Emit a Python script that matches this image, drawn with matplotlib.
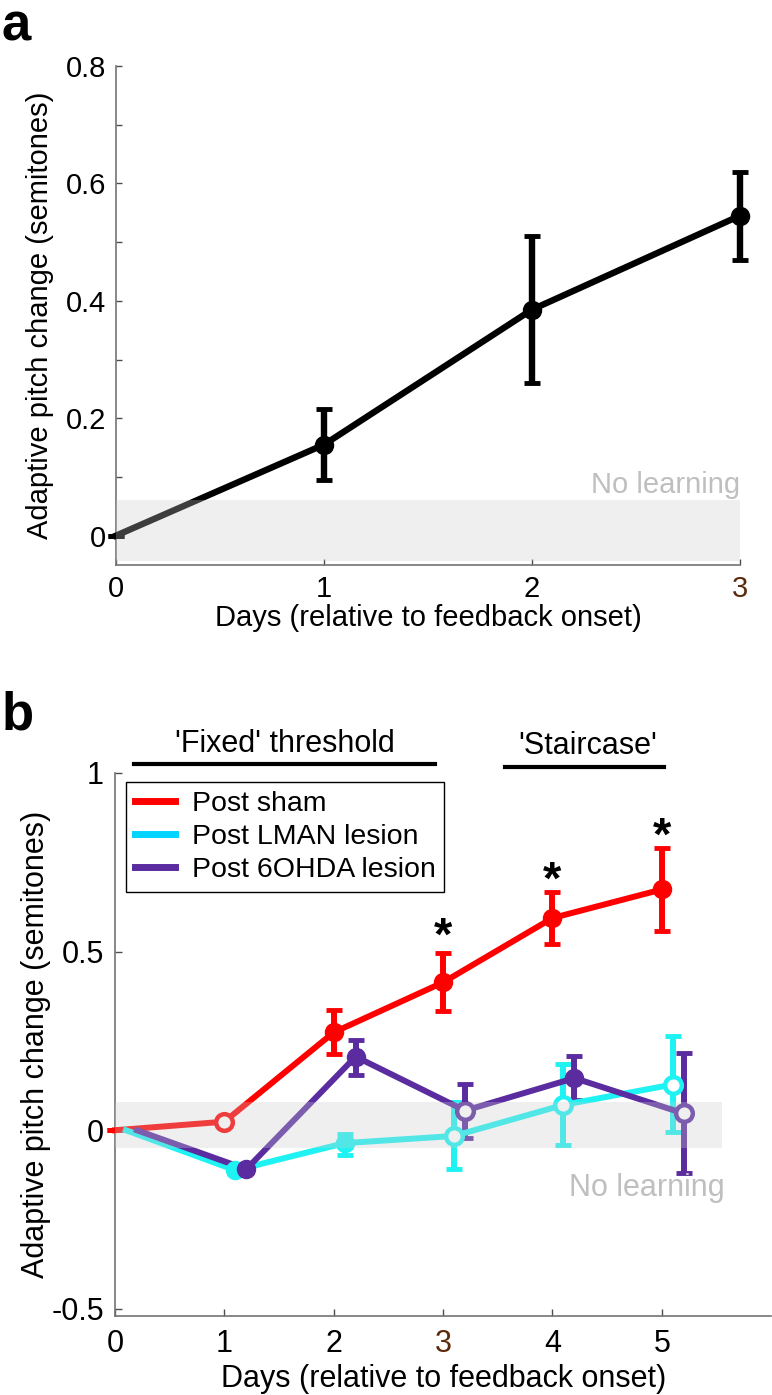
import numpy as np
import matplotlib
matplotlib.use('Agg')
import matplotlib.pyplot as plt
from matplotlib.lines import Line2D

plt.rcParams['font.family'] = ['Liberation Sans', 'DejaVu Sans']

# ---- panel a data ----
a_days = [0, 1, 2, 3]
a_mean = [0.0, 0.155, 0.385, 0.545]
a_low = [0.0, 0.095, 0.26, 0.47]
a_high = [0.0, 0.215, 0.51, 0.62]

# ---- panel b data ----
b_days = [0, 1, 2, 3, 4, 5]
sham_mean = [0.0, 0.024, 0.274, 0.414, 0.594, 0.674]
sham_low = [0.0, 0.024, 0.213, 0.333, 0.522, 0.559]
sham_high = [0.0, 0.024, 0.336, 0.497, 0.667, 0.79]
sham_filled = [False, False, True, True, True, True]

lman_mean = [0.0, -0.112, -0.036, -0.016, 0.071, 0.128]
lman_low = [0.0, -0.12, -0.07, -0.109, -0.04, -0.005]
lman_high = [0.0, -0.104, -0.01, 0.08, 0.186, 0.264]
lman_filled = [False, True, True, False, False, False]

ohda_mean = [0.0, -0.109, 0.206, 0.055, 0.146, 0.047]
ohda_low = [0.0, -0.117, 0.154, -0.023, 0.084, -0.12]
ohda_high = [0.0, -0.101, 0.253, 0.13, 0.208, 0.216]
ohda_filled = [False, True, True, False, True, False]

sig_days = [3, 4, 5]
sig_y = [0.54, 0.695, 0.82]

spine_col = '0.45'


def style_axes(ax, fs, pad):
    for s in ['top', 'right']:
        ax.spines[s].set_visible(False)
    for s in ['left', 'bottom']:
        ax.spines[s].set_color(spine_col)
        ax.spines[s].set_linewidth(1.2)
    ax.tick_params(direction='in', length=4, width=1, color='0.3',
                   labelsize=fs, pad=pad, which='both')


def draw_series(ax, x, mean, low, high, filled, color, lw=4.3, ms=13):
    x = np.asarray(x, dtype=float)
    mean = np.asarray(mean)
    yerr = [mean - np.asarray(low), np.asarray(high) - mean]
    eb = ax.errorbar(x, mean, yerr=yerr, fmt='-', color=color, lw=lw,
                     elinewidth=lw, capsize=6, capthick=3.5, zorder=3)
    for art in eb.get_children():
        art.set_clip_on(False)
    filled = np.asarray(filled)
    xs = x[1:]
    ms_ = mean[1:]
    fl = filled[1:]
    ax.plot(xs[fl], ms_[fl], 'o', color=color, ms=ms, zorder=4, clip_on=False)
    ax.plot(xs[~fl], ms_[~fl], 'o', mfc='white', mec=color, mew=3.2,
            ms=ms - 1, zorder=4, clip_on=False)


fig = plt.figure(figsize=(7.72, 13.95), dpi=100)

# ---------------- panel a ----------------
ax1 = fig.add_axes([0.1503, 0.595, 0.8082, 0.3577])
draw_series(ax1, a_days, a_mean, a_low, a_high, [False, True, True, True], 'black', lw=4.6, ms=13)
ax1.fill_between([0, 3], -0.043, 0.06, color='0.8', alpha=0.3, lw=0, zorder=10)
ax1.text(3, 0.087, 'No learning', ha='right', va='center', fontsize=21, color='0.75')
ax1.set_xlim(0, 3)
ax1.set_ylim(-0.05, 0.8)
ax1.set_xticks([0, 1, 2, 3])
ax1.set_yticks([0, 0.2, 0.4, 0.6, 0.8])
ax1.set_yticklabels(['0', '0.2', '0.4', '0.6', '0.8'])
ax1.set_yticks([0.1, 0.3, 0.5, 0.7], minor=True)
style_axes(ax1, 21, 7)
ax1.get_xticklabels()[3].set_color('#5a2a0a')
ax1.set_xlabel('Days (relative to feedback onset)', fontsize=21)
ax1.set_ylabel('Adaptive pitch change (semitones)', fontsize=21)
ax1.xaxis.set_label_coords(0.5, -0.078)
ax1.yaxis.set_label_coords(-0.1, 0.5)

# ---------------- panel b ----------------
ax2 = fig.add_axes([0.149, 0.0566, 0.850, 0.3893])
draw_series(ax2, b_days, sham_mean, sham_low, sham_high, sham_filled, '#ff0000')
draw_series(ax2, np.array(b_days) + 0.1, lman_mean, lman_low, lman_high, lman_filled, '#1ef2f2')
draw_series(ax2, np.array(b_days) + 0.2, ohda_mean, ohda_low, ohda_high, ohda_filled, '#5a2ca0')
ax2.fill_between([0, 5.55], -0.05, 0.08, color='0.8', alpha=0.3, lw=0, zorder=10)
ax2.text(5.57, -0.162, 'No learning', ha='right', va='center', fontsize=22, color='0.75')

for d, y in zip(sig_days, sig_y):
    ax2.text(d, y, '*', ha='center', va='center', fontsize=34, fontweight='bold')

# protocol bars above the axes
ax2.plot([0.17, 2.93], [1.025, 1.025], color='black', lw=3, clip_on=False)
ax2.plot([3.57, 5.02], [1.018, 1.018], color='black', lw=3, clip_on=False)
ax2.text(1.55, 1.08, "'Fixed' threshold", ha='center', va='center', fontsize=22)
ax2.text(4.32, 1.076, "'Staircase'", ha='center', va='center', fontsize=22)

ax2.set_xlim(0, 6)
ax2.set_ylim(-0.52, 1.0)
ax2.set_xticks([0, 1, 2, 3, 4, 5])
ax2.set_yticks([-0.5, 0, 0.5, 1])
ax2.set_yticklabels(['-0.5', '0', '0.5', '1'])
style_axes(ax2, 22, 8)
ax2.tick_params(length=5)
ax2.tick_params(axis='x', pad=9)
ax2.get_xticklabels()[3].set_color('#5a2a0a')
ax2.set_xlabel('Days (relative to feedback onset)', fontsize=22)
ax2.set_ylabel('Adaptive pitch change (semitones)', fontsize=22)
ax2.xaxis.set_label_coords(0.5, -0.088)
ax2.yaxis.set_label_coords(-0.098, 0.5)

handles = [Line2D([], [], color='#ff0000', lw=5),
           Line2D([], [], color='#00d4ff', lw=5),
           Line2D([], [], color='#5a2ca0', lw=5)]
leg = ax2.legend(handles, ['Post sham', 'Post LMAN lesion', 'Post 6OHDA lesion'],
                 loc='upper left', bbox_to_anchor=(0.017, 0.983), fontsize=20.5,
                 frameon=True, fancybox=False, edgecolor='black', framealpha=1,
                 borderaxespad=0, handlelength=1.4, handletextpad=0.6,
                 labelspacing=0.25, borderpad=0.3)
leg.get_frame().set_linewidth(1)

fig.text(0.002, 0.999, 'a', fontsize=38, fontweight='bold', va='top', ha='left')
fig.text(0.002, 0.505, 'b', fontsize=38, fontweight='bold', va='top', ha='left')

fig.savefig('out.png', dpi=100)
